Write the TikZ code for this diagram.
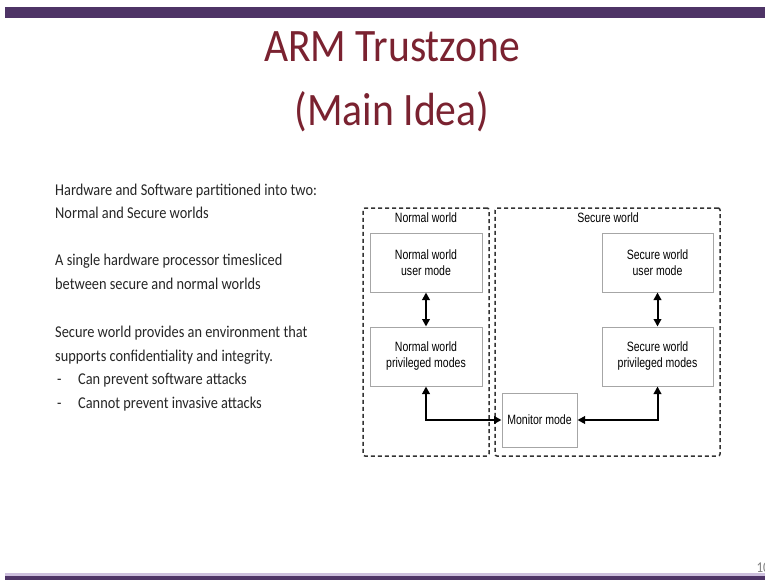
\documentclass[tikz,border=0pt]{standalone}
\usepackage{fontspec}
\setmainfont{Carlito}
\newfontfamily\titlefont[FakeStretch=0.895]{Carlito}
\newfontfamily\slidefont[FakeStretch=0.87]{Carlito}
\newfontfamily\diagfont[FakeStretch=0.78]{Liberation Sans}
\usetikzlibrary{arrows.meta, positioning, calc}
\definecolor{colBar}{HTML}{4E3466}
\definecolor{colBarLt}{HTML}{CDBFDD}
\definecolor{colTitle}{HTML}{7A2230}
\definecolor{colText}{HTML}{262626}
\definecolor{colBoxBdr}{HTML}{A6A6A6}
\definecolor{colWorld}{HTML}{333333}
\tikzset{
  worldbox/.style={draw=colWorld, dashed, dash pattern=on 4pt off 3pt, line width=1.5pt, rounded corners=2pt},
  modebox/.style={draw=colBoxBdr, line width=1pt, fill=white, align=center, inner sep=0pt},
  dblarr/.style={{Triangle[length=7.5pt,width=7.5pt]}-{Triangle[length=7.5pt,width=7.5pt]}, line width=2pt, black},
  bodytext/.style={anchor=base west, align=left, inner sep=0pt, text=colText, font=\slidefont\fontsize{16.5}{23.4}\selectfont},
  titletext/.style={anchor=base, text=colTitle, font=\titlefont\fontsize{46.5}{50}\selectfont}
}

\begin{document}
\begin{tikzpicture}[x=1pt, y=-1pt, font=\diagfont\fontsize{13.5}{16}\selectfont]
				\useasboundingbox (0,0) rectangle (765,580);
				\fill[white] (0,0) rectangle (765,580);
				\fill[colBar] (5,7) rectangle (765,18);
				\fill[colBarLt] (5,573) rectangle (765,576);
				\fill[colBar] (5,576) rectangle (765,580);
				\node[titletext] (title1) at (392,62) {ARM Trustzone};
				\node[titletext] (title2) at (392,126) {(Main Idea)};
				\node[anchor=base west, text=gray, font=\slidefont\fontsize{15}{16}\selectfont] (pgnum) at (753,572) {10};
				\node[bodytext] (para1) at (55,218.5)
				{Hardware and Software partitioned into two:\\Normal and Secure worlds};
				\node[bodytext] (para2) at (55,289)
				{A single hardware processor timesliced\\between secure and normal worlds};
				\node[bodytext] (para3) at (55,408)
				{Secure world provides an environment that\\supports confidentiality and integrity.\\
				\makebox[23pt][l]{\kern2pt-}Can prevent software attacks\\
				\makebox[23pt][l]{\kern2pt-}Cannot prevent invasive attacks};
				\node[worldbox, minimum width=126pt, minimum height=248pt] (nworld) at (426,332) {};
				\node[worldbox, minimum width=225pt, minimum height=248pt] (sworld) at (607.5,332) {};
				\node (nlabel) at (426,218) {Normal world};
				\node (slabel) at (608,218) {Secure world};
				\node[modebox, minimum width=112pt, minimum height=59pt] (nuser) at (426,262.5) {Normal world\\user mode};
				\node[modebox, minimum width=112pt, minimum height=59pt] (npriv) at (426,356.5) {Normal world\\privileged modes};
				\node[modebox, minimum width=111pt, minimum height=59pt] (suser) at (657.5,262.5) {Secure world\\user mode};
				\node[modebox, minimum width=111pt, minimum height=59pt] (spriv) at (657.5,356.5) {Secure world\\privileged modes};
				\node[modebox, minimum width=75pt, minimum height=54pt] (monitor) at (539.5,420) {Monitor mode};
				\draw[dblarr] (nuser) -- (npriv);
				\draw[dblarr] (suser) -- (spriv);
				\draw[dblarr] (npriv.south) |- (monitor.west);
				\draw[dblarr] (monitor.east) -| (spriv.south);
		\end{tikzpicture}
\end{document}
